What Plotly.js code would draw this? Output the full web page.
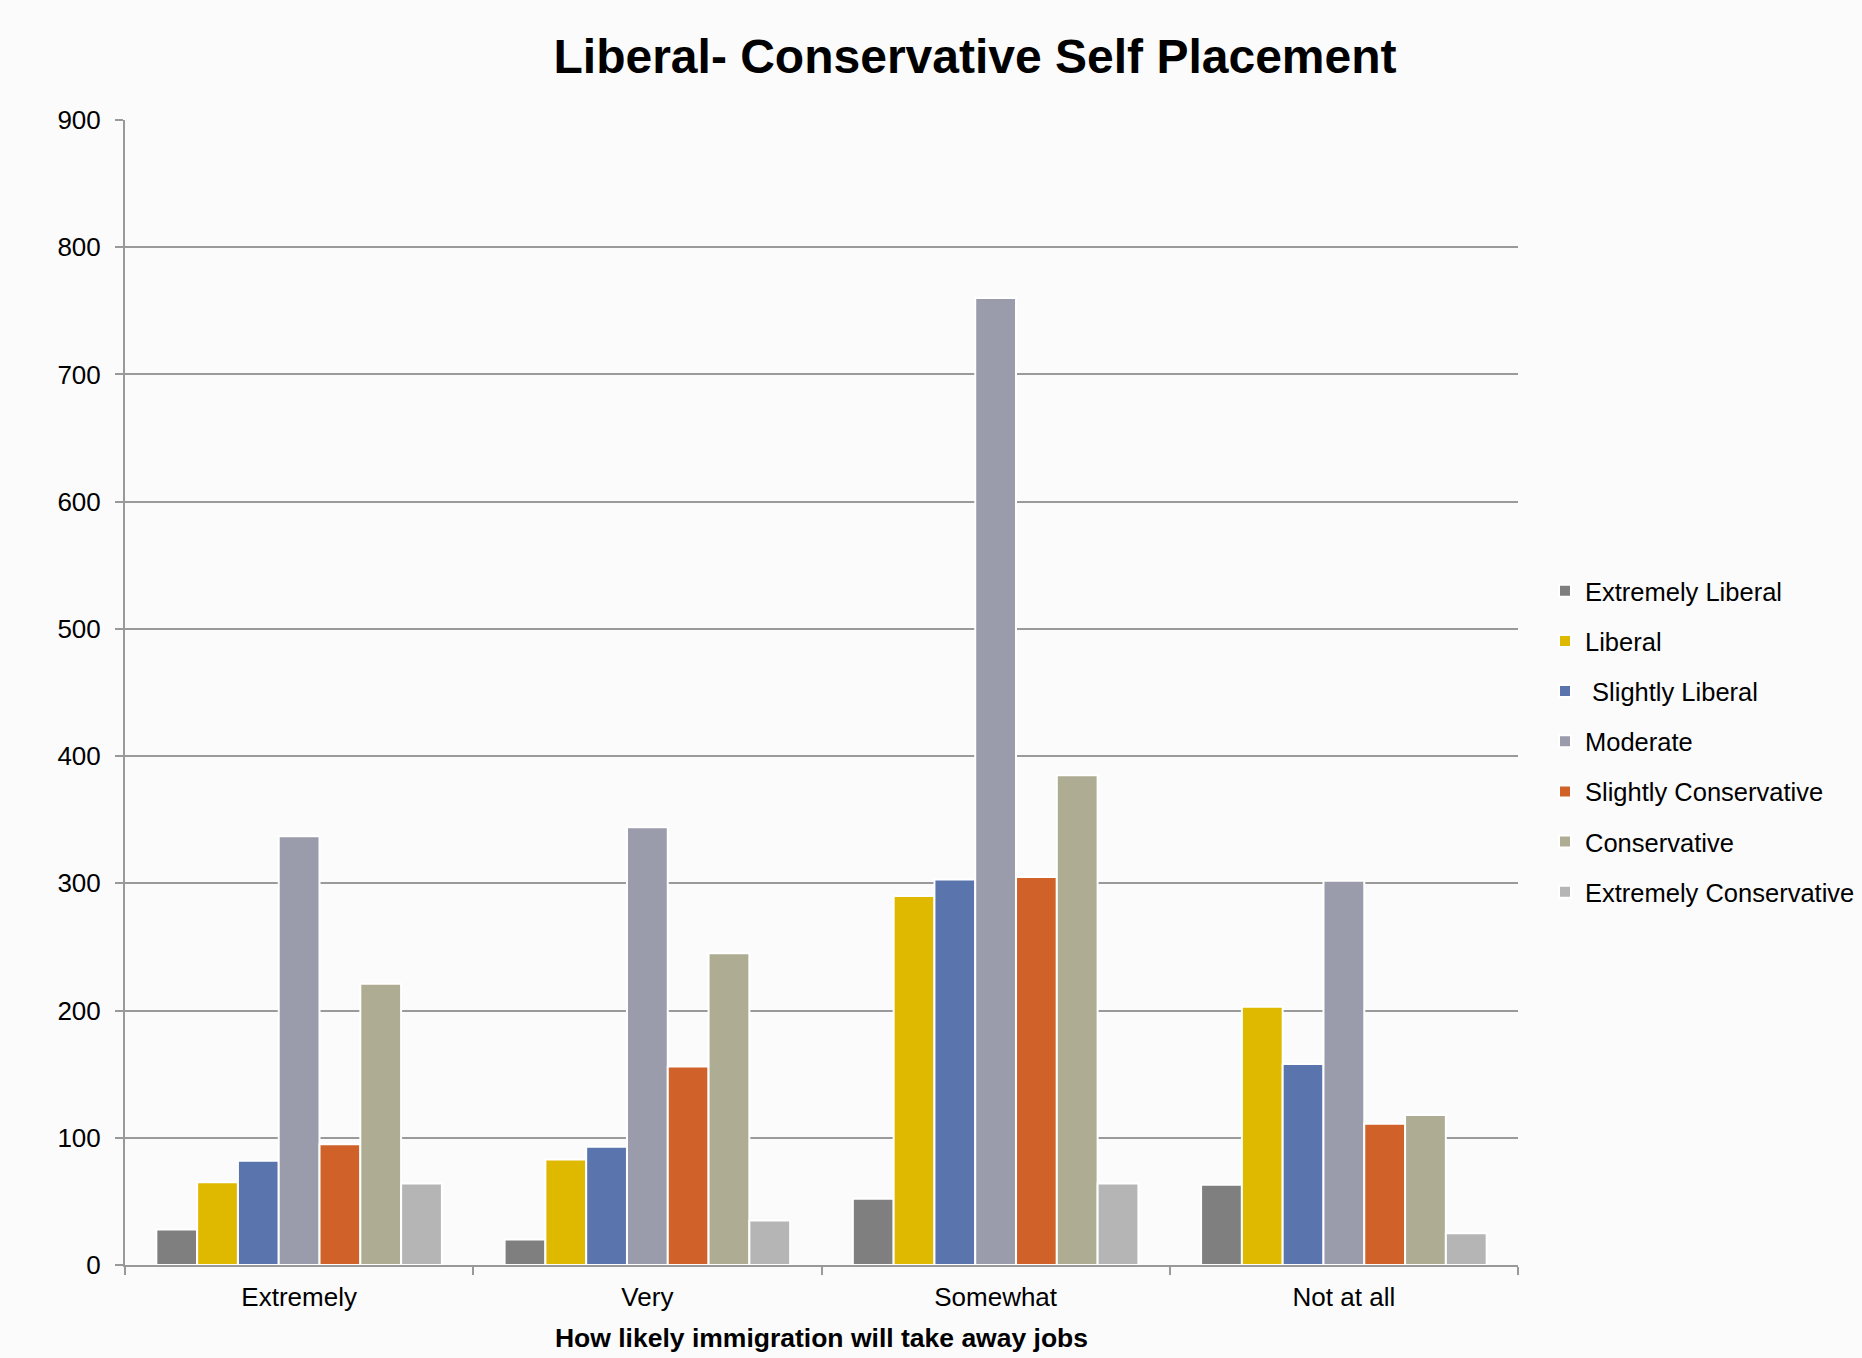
<!DOCTYPE html>
<html>
<head>
<meta charset="utf-8">
<script src="https://cdn.plot.ly/plotly-3.0.1.min.js"></script>
<style>
html,body{margin:0;padding:0;background:#fbfbfb;}
#chart{width:1862px;height:1358px;}
</style>
</head>
<body>
<div id="chart"></div>
<script>
const categories = ["Extremely", "Very", "Somewhat", "Not at all"];
const seriesNames = ["Extremely Liberal", "Liberal", " Slightly Liberal", "Moderate", "Slightly Conservative", "Conservative", "Extremely Conservative"];
const extremelyLiberal = [28, 20, 52, 63];
const liberal = [65, 83, 290, 203];
const slightlyLiberal = [82, 93, 303, 158];
const moderate = [337, 344, 760, 302];
const slightlyConservative = [95, 156, 305, 111];
const conservative = [221, 245, 385, 118];
const extremelyConservative = [64, 35, 64, 25];
const yTickValues = [0, 100, 200, 300, 400, 500, 600, 700, 800, 900];

const seriesValues = [extremelyLiberal, liberal, slightlyLiberal, moderate, slightlyConservative, conservative, extremelyConservative];
const colors = ["#7f7f7f", "#dfb900", "#5a75ad", "#9a9bab", "#d06229", "#aead93", "#b5b5b5"];

const traces = seriesValues.map((vals, i) => ({
  type: "bar",
  name: seriesNames[i],
  x: categories,
  y: vals,
  legendgroup: "g" + i,
  marker: {color: colors[i], line: {color: "#ffffff", width: 2}},
  hoverinfo: "x+y+name"
}));

const layout = {
  width: 1862,
  height: 1358,
  paper_bgcolor: "#fbfbfb",
  plot_bgcolor: "rgba(0,0,0,0)",
  font: {family: "Liberation Sans, Arial, sans-serif", color: "#000000", size: 26},
  margin: {l: 125, r: 344, t: 120, b: 93, autoexpand: false},
  title: {
    text: "<b>Liberal- Conservative Self Placement</b>",
    font: {size: 48, family: "Liberation Sans, Arial, sans-serif", color: "#000"},
    xref: "container", yref: "container",
    x: 975 / 1862, xanchor: "center",
    y: 1 - 56 / 1358, yanchor: "middle"
  },
  barmode: "group",
  bargap: 0.18,
  bargroupgap: 0,
  xaxis: {
    type: "category",
    tickson: "boundaries",
    ticks: "outside",
    ticklen: 8,
    tickwidth: 2,
    tickcolor: "#999999",
    showline: true,
    linecolor: "#999999",
    linewidth: 2,
    showgrid: false,
    ticklabelstandoff: 8,
    tickfont: {size: 26},
    title: {
      text: "<b>How likely immigration will take away jobs</b>",
      font: {size: 26.5},
      standoff: 17
    }
  },
  yaxis: {
    range: [0, 900],
    tickvals: yTickValues,
    ticks: "outside",
    ticklen: 8,
    tickwidth: 2,
    tickcolor: "#999999",
    showline: true,
    linecolor: "#999999",
    linewidth: 2,
    showgrid: true,
    gridcolor: "#9a9a9a",
    gridwidth: 2,
    zeroline: false,
    ticklabelstandoff: 9,
    tickfont: {size: 26}
  },
  legend: {
    x: (1545 - 125) / (1862 - 125 - 344),
    xanchor: "left",
    y: 0.457,
    yanchor: "middle",
    font: {size: 25.5},
    tracegroupgap: 14,
    bgcolor: "rgba(0,0,0,0)"
  },
  showlegend: true
};

Plotly.newPlot("chart", traces, layout, {displayModeBar: false, staticPlot: true});
</script>
</body>
</html>
